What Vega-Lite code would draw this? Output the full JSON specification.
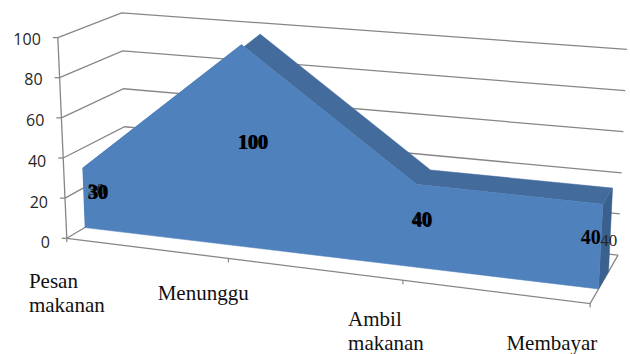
{
  "$schema": "https://vega.github.io/schema/vega-lite/v6.json",
  "autosize": {"type": "fit", "contains": "padding"},
  "padding": 0,
  "width": 630,
  "height": 354,
  "background": "white",
  "config": {"view": {"stroke": null}},
  "datasets": {
    "stages": [
      {"stage": 0, "label": "Pesan\nmakanan", "value": 30},
      {"stage": 1, "label": "Menunggu", "value": 100},
      {"stage": 2, "label": "Ambil\nmakanan", "value": 40},
      {"stage": 3, "label": "Membayar", "value": 40}
    ],
    "levels": [
      {"value": 0}, {"value": 20}, {"value": 40}, {"value": 60}, {"value": 80}, {"value": 100}
    ]
  },
  "encoding": {
    "x": {"field": "px", "type": "quantitative", "scale": {"domain": [0, 630], "nice": false, "zero": false}, "axis": null},
    "y": {"field": "py", "type": "quantitative", "scale": {"domain": [354, 0], "nice": false, "zero": false}, "axis": null}
  },
  "layer": [
    {
      "data": {"name": "levels"},
      "transform": [
        {"calculate": "[0,1,2]", "as": "leg"},
        {"flatten": ["leg"]},
        {"calculate": "datum.leg == 2 ? 1 : 0", "as": "u"},
        {"calculate": "datum.leg == 0 ? 0 : 1", "as": "d"},
        {"calculate": "datum.value / 100", "as": "v"},
        {"calculate": "(1-datum.v)*((1-datum.d)*(67+525*datum.u)+datum.d*(127+493*datum.u))+datum.v*((1-datum.d)*(58+546*datum.u)+datum.d*(122+507*datum.u))", "as": "px"},
        {"calculate": "(1-datum.v)*((1-datum.d)*(241+66*datum.u)+datum.d*(205+53*datum.u))+datum.v*((1-datum.d)*(38+52*datum.u)+datum.d*(13+37*datum.u))", "as": "py"}
      ],
      "mark": {"type": "line", "stroke": "#868686", "strokeWidth": 1.3},
      "encoding": {
        "detail": {"field": "value", "type": "nominal"},
        "order": {"field": "leg", "type": "quantitative"}
      }
    },
    {
      "data": {"name": "levels"},
      "transform": [
        {"filter": "datum.value == 0"},
        {"calculate": "[0,1,2]", "as": "leg"},
        {"flatten": ["leg"]},
        {"calculate": "datum.leg == 0 ? 0 : 1", "as": "u"},
        {"calculate": "datum.leg == 2 ? 1 : 0", "as": "d"},
        {"calculate": "0", "as": "v"},
        {"calculate": "(1-datum.v)*((1-datum.d)*(67+525*datum.u)+datum.d*(127+493*datum.u))+datum.v*((1-datum.d)*(58+546*datum.u)+datum.d*(122+507*datum.u))", "as": "px"},
        {"calculate": "(1-datum.v)*((1-datum.d)*(241+66*datum.u)+datum.d*(205+53*datum.u))+datum.v*((1-datum.d)*(38+52*datum.u)+datum.d*(13+37*datum.u))", "as": "py"}
      ],
      "mark": {"type": "line", "stroke": "#868686", "strokeWidth": 1.3},
      "encoding": {"order": {"field": "leg", "type": "quantitative"}}
    },
    {
      "data": {"name": "levels"},
      "transform": [
        {"calculate": "datum.value / 100", "as": "v"},
        {"calculate": "67 - 9 * datum.v", "as": "px"},
        {"calculate": "241 - 203 * datum.v", "as": "py"}
      ],
      "mark": {"type": "line", "stroke": "#868686", "strokeWidth": 1.3},
      "encoding": {"order": {"field": "value", "type": "quantitative"}}
    },
    {
      "data": {"name": "levels"},
      "transform": [
        {"calculate": "datum.value / 100", "as": "v"},
        {"calculate": "67 - 9 * datum.v", "as": "px"},
        {"calculate": "datum.px - 5", "as": "tickEnd"},
        {"calculate": "241 - 203 * datum.v", "as": "py"}
      ],
      "mark": {"type": "rule", "stroke": "#868686", "strokeWidth": 1.3},
      "encoding": {"x2": {"field": "tickEnd"}}
    },
    {
      "data": {"name": "levels"},
      "transform": [
        {"calculate": "datum.value / 100", "as": "v"},
        {"calculate": "67 - 9 * datum.v", "as": "px"},
        {"calculate": "244 - 206 * datum.v", "as": "py"}
      ],
      "mark": {"type": "text", "align": "right", "baseline": "middle", "dx": -17, "dy": 2, "font": "Open Sans", "fontSize": 16, "fill": "#262626"},
      "encoding": {"text": {"field": "value", "type": "quantitative"}}
    },
    {
      "data": {"name": "stages"},
      "transform": [
        {"calculate": "datum.stage / 3", "as": "t"},
        {"calculate": "datum.t * (0.89 + 0.11 * datum.t)", "as": "u"},
        {"calculate": "67 + 525 * datum.u", "as": "px"},
        {"calculate": "241 + 66 * datum.u", "as": "py"},
        {"calculate": "datum.py + 4", "as": "tickEnd"}
      ],
      "mark": {"type": "rule", "stroke": "#868686", "strokeWidth": 1.2},
      "encoding": {"y2": {"field": "tickEnd"}}
    },
    {
      "data": {"name": "stages"},
      "transform": [
        {"calculate": "[0.3,0.66]", "as": "d"},
        {"flatten": ["d"]},
        {"calculate": "datum.stage / 3", "as": "t"},
        {"calculate": "datum.t * (0.89 + 0.11 * datum.t)", "as": "u"},
        {"calculate": "datum.value / 100", "as": "v"},
        {"calculate": "datum.d < 0.5 ? datum.stage : 7 - datum.stage", "as": "corner"},
        {"calculate": "(1-datum.v)*((1-datum.d)*(67+525*datum.u)+datum.d*(127+493*datum.u))+datum.v*((1-datum.d)*(58+546*datum.u)+datum.d*(122+507*datum.u))", "as": "px"},
        {"calculate": "(1-datum.v)*((1-datum.d)*(241+66*datum.u)+datum.d*(205+53*datum.u))+datum.v*((1-datum.d)*(38+52*datum.u)+datum.d*(13+37*datum.u))", "as": "py"}
      ],
      "mark": {"type": "line", "fill": "#436b9c", "stroke": "#436b9c", "strokeWidth": 0.5},
      "encoding": {"order": {"field": "corner", "type": "quantitative"}}
    },
    {
      "data": {"name": "stages"},
      "transform": [
        {"filter": "datum.stage == 3"},
        {"calculate": "[0,1,2,3]", "as": "corner"},
        {"flatten": ["corner"]},
        {"calculate": "1", "as": "u"},
        {"calculate": "datum.corner < 2 ? 0.3 : 0.66", "as": "d"},
        {"calculate": "datum.corner == 0 || datum.corner == 3 ? datum.value / 100 : 0", "as": "v"},
        {"calculate": "(1-datum.v)*((1-datum.d)*(67+525*datum.u)+datum.d*(127+493*datum.u))+datum.v*((1-datum.d)*(58+546*datum.u)+datum.d*(122+507*datum.u))", "as": "px"},
        {"calculate": "(1-datum.v)*((1-datum.d)*(241+66*datum.u)+datum.d*(205+53*datum.u))+datum.v*((1-datum.d)*(38+52*datum.u)+datum.d*(13+37*datum.u))", "as": "py"}
      ],
      "mark": {"type": "line", "fill": "#3a608e", "stroke": "#3a608e", "strokeWidth": 0.5},
      "encoding": {"order": {"field": "corner", "type": "quantitative"}}
    },
    {
      "data": {"name": "stages"},
      "transform": [
        {"calculate": "[1,0]", "as": "top"},
        {"flatten": ["top"]},
        {"calculate": "datum.stage / 3", "as": "t"},
        {"calculate": "datum.t * (0.89 + 0.11 * datum.t)", "as": "u"},
        {"calculate": "0.3", "as": "d"},
        {"calculate": "datum.top * datum.value / 100", "as": "v"},
        {"calculate": "datum.top ? datum.stage : 7 - datum.stage", "as": "corner"},
        {"calculate": "(1-datum.v)*((1-datum.d)*(67+525*datum.u)+datum.d*(127+493*datum.u))+datum.v*((1-datum.d)*(58+546*datum.u)+datum.d*(122+507*datum.u))", "as": "px"},
        {"calculate": "(1-datum.v)*((1-datum.d)*(241+66*datum.u)+datum.d*(205+53*datum.u))+datum.v*((1-datum.d)*(38+52*datum.u)+datum.d*(13+37*datum.u))", "as": "py"}
      ],
      "mark": {"type": "line", "fill": "#4f81bd", "stroke": "#4f81bd", "strokeWidth": 0.5},
      "encoding": {"order": {"field": "corner", "type": "quantitative"}}
    },
    {
      "data": {"name": "stages"},
      "transform": [
        {"calculate": "datum.stage / 3", "as": "t"},
        {"calculate": "datum.t * (0.89 + 0.11 * datum.t)", "as": "u"},
        {"calculate": "67 + 525 * datum.u + [-38,-71,-55,-84][datum.stage]", "as": "px"},
        {"calculate": "241 + 66 * datum.u + [50,42,46,47][datum.stage]", "as": "py"}
      ],
      "mark": {"type": "text", "align": "left", "baseline": "alphabetic", "font": "Liberation Serif", "fontSize": 21, "lineBreak": "\n", "lineHeight": 24, "fill": "#111111"},
      "encoding": {"text": {"field": "label", "type": "nominal"}}
    },
    {
      "data": {"name": "stages"},
      "transform": [
        {"filter": "datum.stage == 0 || datum.stage == 3"},
        {"calculate": "datum.stage / 3", "as": "t"},
        {"calculate": "datum.t * (0.89 + 0.11 * datum.t)", "as": "u"},
        {"calculate": "0.3", "as": "d"},
        {"calculate": "datum.value / 200", "as": "v"},
        {"calculate": "(1-datum.v)*((1-datum.d)*(67+525*datum.u)+datum.d*(127+493*datum.u))+datum.v*((1-datum.d)*(58+546*datum.u)+datum.d*(122+507*datum.u)) + [13,11,7,8][datum.stage]", "as": "px"},
        {"calculate": "(1-datum.v)*((1-datum.d)*(241+66*datum.u)+datum.d*(205+53*datum.u))+datum.v*((1-datum.d)*(38+52*datum.u)+datum.d*(13+37*datum.u)) + [-10,-5,-7,-8][datum.stage]", "as": "py"}
      ],
      "mark": {"type": "text", "align": "center", "baseline": "middle", "dy": 2, "font": "Liberation Serif", "fontSize": 17, "fill": "#262626"},
      "encoding": {"text": {"field": "value", "type": "quantitative"}}
    },
    {
      "data": {"name": "stages"},
      "transform": [
        {"filter": "datum.stage < 3"},
        {"calculate": "datum.stage / 3", "as": "t"},
        {"calculate": "datum.t * (0.89 + 0.11 * datum.t)", "as": "u"},
        {"calculate": "0.3", "as": "d"},
        {"calculate": "datum.value / 200", "as": "v"},
        {"calculate": "(1-datum.v)*((1-datum.d)*(67+525*datum.u)+datum.d*(127+493*datum.u))+datum.v*((1-datum.d)*(58+546*datum.u)+datum.d*(122+507*datum.u)) + [14,10,6,0][datum.stage]", "as": "px"},
        {"calculate": "(1-datum.v)*((1-datum.d)*(241+66*datum.u)+datum.d*(205+53*datum.u))+datum.v*((1-datum.d)*(38+52*datum.u)+datum.d*(13+37*datum.u)) + [-7,-5,-8,0][datum.stage]", "as": "py"}
      ],
      "mark": {"type": "text", "align": "center", "baseline": "middle", "dy": 2, "font": "Liberation Serif", "fontSize": 20, "fontWeight": "bold", "fill": "#000000"},
      "encoding": {"text": {"field": "value", "type": "quantitative"}}
    },
    {
      "data": {"name": "stages"},
      "transform": [
        {"calculate": "datum.stage / 3", "as": "t"},
        {"calculate": "datum.t * (0.89 + 0.11 * datum.t)", "as": "u"},
        {"calculate": "0.3", "as": "d"},
        {"calculate": "datum.value / 200", "as": "v"},
        {"calculate": "(1-datum.v)*((1-datum.d)*(67+525*datum.u)+datum.d*(127+493*datum.u))+datum.v*((1-datum.d)*(58+546*datum.u)+datum.d*(122+507*datum.u)) + [15,11,7,-10][datum.stage]", "as": "px"},
        {"calculate": "(1-datum.v)*((1-datum.d)*(241+66*datum.u)+datum.d*(205+53*datum.u))+datum.v*((1-datum.d)*(38+52*datum.u)+datum.d*(13+37*datum.u)) + [-7,-5,-7,-11][datum.stage]", "as": "py"}
      ],
      "mark": {"type": "text", "align": "center", "baseline": "middle", "dy": 2, "font": "Liberation Serif", "fontSize": 20, "fontWeight": "bold", "fill": "#000000"},
      "encoding": {"text": {"field": "value", "type": "quantitative"}}
    }
  ]
}
